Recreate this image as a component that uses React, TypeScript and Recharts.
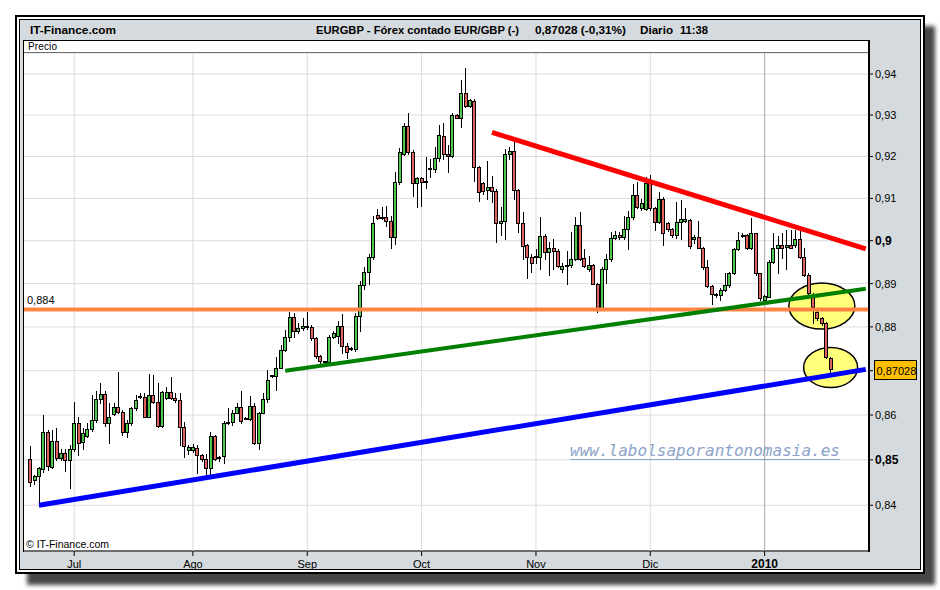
import React from 'react';
import { ComposedChart, Bar, XAxis, YAxis, CartesianGrid, ReferenceLine, ReferenceDot } from 'recharts';

// Daily EURGBP candles: [open, high, low, close]
const candles: [number, number, number, number][] = [
  [0.8501, 0.8531, 0.8443, 0.8450], [0.8455, 0.8466, 0.8446, 0.8464], [0.8464, 0.8485, 0.8399, 0.8481],
  [0.8479, 0.8600, 0.8474, 0.8561], [0.8561, 0.8566, 0.8477, 0.8486], [0.8485, 0.8566, 0.8483, 0.8543],
  [0.8543, 0.8570, 0.8499, 0.8505], [0.8505, 0.8525, 0.8499, 0.8516], [0.8516, 0.8523, 0.8475, 0.8499],
  [0.8499, 0.8533, 0.8437, 0.8525], [0.8525, 0.8630, 0.8520, 0.8581], [0.8581, 0.8596, 0.8510, 0.8538],
  [0.8540, 0.8570, 0.8525, 0.8559], [0.8554, 0.8581, 0.8551, 0.8569], [0.8568, 0.8645, 0.8565, 0.8588],
  [0.8588, 0.8653, 0.8585, 0.8635], [0.8635, 0.8671, 0.8626, 0.8647], [0.8647, 0.8653, 0.8576, 0.8581],
  [0.8583, 0.8626, 0.8537, 0.8595], [0.8602, 0.8626, 0.8600, 0.8617], [0.8617, 0.8698, 0.8604, 0.8607],
  [0.8607, 0.8611, 0.8555, 0.8561], [0.8561, 0.8589, 0.8550, 0.8583], [0.8581, 0.8619, 0.8578, 0.8615],
  [0.8615, 0.8645, 0.8611, 0.8634], [0.8640, 0.8649, 0.8638, 0.8640], [0.8640, 0.8649, 0.8595, 0.8596],
  [0.8596, 0.8692, 0.8595, 0.8644], [0.8644, 0.8690, 0.8628, 0.8630], [0.8630, 0.8671, 0.8574, 0.8576],
  [0.8576, 0.8653, 0.8574, 0.8651], [0.8638, 0.8664, 0.8636, 0.8651], [0.8651, 0.8686, 0.8636, 0.8638],
  [0.8639, 0.8649, 0.8630, 0.8634], [0.8634, 0.8649, 0.8533, 0.8574], [0.8574, 0.8585, 0.8507, 0.8531],
  [0.8522, 0.8533, 0.8514, 0.8528], [0.8522, 0.8535, 0.8518, 0.8529], [0.8527, 0.8533, 0.8471, 0.8510],
  [0.8510, 0.8514, 0.8498, 0.8501], [0.8501, 0.8514, 0.8466, 0.8481], [0.8481, 0.8563, 0.8459, 0.8553],
  [0.8553, 0.8555, 0.8499, 0.8502], [0.8505, 0.8509, 0.8498, 0.8505], [0.8508, 0.8587, 0.8493, 0.8581],
  [0.8581, 0.8615, 0.8580, 0.8585], [0.8585, 0.8611, 0.8577, 0.8605], [0.8605, 0.8626, 0.8604, 0.8619],
  [0.8619, 0.8654, 0.8583, 0.8586], [0.8592, 0.8596, 0.8590, 0.8592], [0.8592, 0.8643, 0.8589, 0.8621],
  [0.8621, 0.8626, 0.8535, 0.8537], [0.8537, 0.8607, 0.8523, 0.8605], [0.8605, 0.8650, 0.8604, 0.8635],
  [0.8635, 0.8701, 0.8630, 0.8678], [0.8688, 0.8691, 0.8685, 0.8688], [0.8688, 0.8732, 0.8656, 0.8707],
  [0.8707, 0.8758, 0.8705, 0.8748], [0.8748, 0.8793, 0.8745, 0.8776], [0.8776, 0.8835, 0.8768, 0.8822],
  [0.8822, 0.8833, 0.8777, 0.8791], [0.8791, 0.8808, 0.8785, 0.8798], [0.8797, 0.8820, 0.8793, 0.8803],
  [0.8803, 0.8835, 0.8796, 0.8799], [0.8799, 0.8804, 0.8770, 0.8774], [0.8774, 0.8777, 0.8728, 0.8733],
  [0.8733, 0.8735, 0.8715, 0.8722], [0.8720, 0.8722, 0.8718, 0.8720], [0.8719, 0.8781, 0.8717, 0.8776],
  [0.8777, 0.8790, 0.8775, 0.8785], [0.8780, 0.8813, 0.8763, 0.8802], [0.8802, 0.8829, 0.8740, 0.8757],
  [0.8757, 0.8763, 0.8728, 0.8742], [0.8749, 0.8754, 0.8746, 0.8749], [0.8749, 0.8833, 0.8745, 0.8826],
  [0.8826, 0.8906, 0.8790, 0.8896], [0.8896, 0.8938, 0.8887, 0.8926], [0.8926, 0.8969, 0.8898, 0.8961],
  [0.8961, 0.9059, 0.8957, 0.9042], [0.9061, 0.9075, 0.9051, 0.9053], [0.9055, 0.9079, 0.9050, 0.9053],
  [0.9055, 0.9083, 0.9035, 0.9046], [0.9046, 0.9059, 0.8984, 0.9008], [0.9008, 0.9162, 0.8992, 0.9138],
  [0.9138, 0.9221, 0.9134, 0.9211], [0.9207, 0.9280, 0.9203, 0.9274], [0.9274, 0.9304, 0.9207, 0.9211],
  [0.9211, 0.9215, 0.9105, 0.9136], [0.9136, 0.9150, 0.9079, 0.9148], [0.9148, 0.9150, 0.9083, 0.9140],
  [0.9140, 0.9198, 0.9124, 0.9140], [0.9169, 0.9194, 0.9150, 0.9169], [0.9169, 0.9223, 0.9162, 0.9196],
  [0.9196, 0.9277, 0.9190, 0.9251], [0.9250, 0.9280, 0.9194, 0.9207], [0.9207, 0.9228, 0.9162, 0.9202],
  [0.9202, 0.9304, 0.9198, 0.9300], [0.9300, 0.9302, 0.9292, 0.9293], [0.9293, 0.9386, 0.9272, 0.9354],
  [0.9354, 0.9414, 0.9320, 0.9322], [0.9322, 0.9340, 0.9320, 0.9336], [0.9334, 0.9340, 0.9142, 0.9174],
  [0.9174, 0.9178, 0.9094, 0.9114], [0.9136, 0.9138, 0.9110, 0.9118], [0.9120, 0.9190, 0.9098, 0.9126],
  [0.9126, 0.9154, 0.9091, 0.9118], [0.9118, 0.9122, 0.8998, 0.9042], [0.9042, 0.9079, 0.9013, 0.9047],
  [0.9047, 0.9218, 0.9004, 0.9206], [0.9206, 0.9222, 0.9195, 0.9214], [0.9214, 0.9246, 0.9098, 0.9120],
  [0.9120, 0.9122, 0.9020, 0.9042], [0.9042, 0.9067, 0.8957, 0.8987], [0.8990, 0.8992, 0.8914, 0.8961],
  [0.8961, 0.8969, 0.8926, 0.8949], [0.8963, 0.8980, 0.8949, 0.8963], [0.8961, 0.9055, 0.8934, 0.9012],
  [0.9012, 0.9016, 0.8957, 0.8973], [0.8973, 0.8996, 0.8920, 0.8982], [0.8982, 0.9004, 0.8934, 0.8977],
  [0.8977, 0.8980, 0.8938, 0.8940], [0.8935, 0.8949, 0.8927, 0.8940], [0.8940, 0.8977, 0.8898, 0.8944],
  [0.8944, 0.9020, 0.8938, 0.8957], [0.8957, 0.9055, 0.8955, 0.9038], [0.9038, 0.9067, 0.8954, 0.8957],
  [0.8959, 0.8980, 0.8938, 0.8940], [0.8934, 0.8965, 0.8930, 0.8944], [0.8944, 0.8945, 0.8898, 0.8900],
  [0.8900, 0.8902, 0.8834, 0.8842], [0.8842, 0.8938, 0.8840, 0.8935], [0.8935, 0.8969, 0.8902, 0.8957],
  [0.8957, 0.9020, 0.8953, 0.9006], [0.9006, 0.9024, 0.9004, 0.9013], [0.9013, 0.9020, 0.9005, 0.9008],
  [0.9008, 0.9059, 0.9004, 0.9028], [0.9028, 0.9071, 0.8980, 0.9057], [0.9057, 0.9134, 0.9051, 0.9109],
  [0.9109, 0.9138, 0.9076, 0.9080], [0.9076, 0.9098, 0.9072, 0.9088], [0.9074, 0.9152, 0.9072, 0.9136],
  [0.9136, 0.9156, 0.9072, 0.9076], [0.9076, 0.9080, 0.9025, 0.9043], [0.9043, 0.9116, 0.9041, 0.9098],
  [0.9098, 0.9104, 0.8990, 0.9019], [0.9041, 0.9045, 0.9024, 0.9027], [0.9027, 0.9029, 0.9009, 0.9013],
  [0.9013, 0.9092, 0.9006, 0.9045], [0.9045, 0.9096, 0.9003, 0.9050], [0.9047, 0.9076, 0.9045, 0.9050],
  [0.9049, 0.9050, 0.8984, 0.8988], [0.9003, 0.9013, 0.8994, 0.9009], [0.9009, 0.9046, 0.8982, 0.8984],
  [0.8984, 0.8986, 0.8935, 0.8939], [0.8939, 0.8955, 0.8893, 0.8894], [0.8894, 0.8897, 0.8853, 0.8875],
  [0.8875, 0.8877, 0.8869, 0.8873], [0.8873, 0.8889, 0.8862, 0.8885], [0.8885, 0.8924, 0.8883, 0.8897],
  [0.8897, 0.8928, 0.8893, 0.8924], [0.8924, 0.8984, 0.8922, 0.8980], [0.8980, 0.9021, 0.8978, 0.9002],
  [0.9011, 0.9017, 0.9009, 0.9013], [0.9013, 0.9016, 0.8980, 0.8982], [0.8982, 0.9053, 0.8980, 0.9017],
  [0.9017, 0.9019, 0.8920, 0.8924], [0.8924, 0.8925, 0.8863, 0.8866], [0.8863, 0.8873, 0.8862, 0.8871],
  [0.8869, 0.8955, 0.8868, 0.8951], [0.8951, 0.9017, 0.8949, 0.8982], [0.8982, 0.9010, 0.8924, 0.8989],
  [0.8989, 0.9017, 0.8960, 0.8984], [0.8986, 0.9025, 0.8935, 0.8991], [0.8991, 0.9025, 0.8982, 0.8984],
  [0.8991, 0.9025, 0.8986, 0.9003], [0.9003, 0.9025, 0.8959, 0.8963], [0.8963, 0.8982, 0.8918, 0.8920],
  [0.8920, 0.8924, 0.8870, 0.8877], [0.8873, 0.8877, 0.8810, 0.8845], [0.8835, 0.8839, 0.8816, 0.8820],
  [0.8821, 0.8823, 0.8804, 0.8808], [0.8808, 0.8812, 0.8728, 0.8732], [0.8728, 0.8732, 0.8697, 0.87028],
];

const TOTAL_SLOTS = 191;
const monthTicks = [10, 37, 63, 89, 115, 141, 167];
const monthLabels = ['Jul', 'Ago', 'Sep', 'Oct', 'Nov', 'Dic', '2010'];
const priceTicks = [0.84, 0.85, 0.86, 0.87, 0.88, 0.89, 0.9, 0.91, 0.92, 0.93, 0.94];
const priceTickLabels = ['0,84', '0,85', '0,86', '0,87', '0,88', '0,89', '0,9', '0,91', '0,92', '0,93', '0,94'];
const boldPriceLabels = ['0,85', '0,9'];
const supportLevel = 0.884;
const supportLabel = '0,884';
const lastPrice = 0.87028;
const lastPriceLabel = '0,87028';
const redTrend = [{ x: 105, y: 0.9258 }, { x: 190, y: 0.8981 }];
const greenTrend = [{ x: 58, y: 0.87 }, { x: 190, y: 0.8888 }];
const blueTrend = [{ x: 2, y: 0.84 }, { x: 190, y: 0.8703 }];
const highlights = [
  { x: 180, y: 0.8848, rx: 33, ry: 23 },
  { x: 182, y: 0.8707, rx: 27, ry: 20 },
];

const data = Array.from({ length: TOTAL_SLOTS }, (_, i) => {
  const c = candles[i];
  if (!c) return { i, wick: null, body: null, up: true };
  const [o, h, l, cl] = c;
  return { i, wick: [l, h], body: [Math.min(o, cl), Math.max(o, cl)], up: cl >= o };
});

const FONT = '"Liberation Sans", Arial, sans-serif';

const WickShape = (props: any) => {
  const { x, y, width, height, payload } = props;
  if (!payload || !payload.wick || !isFinite(y) || !isFinite(height)) return null;
  const px = Math.floor(x + width / 2);
  const top = Math.round(Math.min(y, y + height));
  const bot = Math.round(Math.max(y, y + height));
  return <line x1={px + 0.5} x2={px + 0.5} y1={top} y2={bot + 1} stroke="#000" strokeWidth={1} shapeRendering="crispEdges" />;
};

const BodyShape = (props: any) => {
  const { x, y, width, height, payload } = props;
  if (!payload || !payload.body || !isFinite(y) || !isFinite(height)) return null;
  const px = Math.floor(x + width / 2);
  const top = Math.round(Math.min(y, y + height));
  const bot = Math.round(Math.max(y, y + height));
  const h = Math.max(bot - top, 1);
  return (
    <rect
      x={px - 0.5}
      y={top + 0.5}
      width={3}
      height={h}
      fill={payload.up ? '#4cc84c' : '#e0625e'}
      stroke="#000"
      strokeWidth={1}
      shapeRendering="crispEdges"
    />
  );
};

const YTick = (props: any) => {
  const { x, y, payload } = props;
  const idx = priceTicks.indexOf(payload.value);
  const label = priceTickLabels[idx] ?? '';
  // the last-price box sits on top of the nearest tick label
  if (Math.abs(payload.value - lastPrice) < 0.003) return null;
  const bold = boldPriceLabels.includes(label);
  return (
    <text x={x} y={y} dy={4} fontSize={bold ? 12 : 11} fontWeight={bold ? 'bold' : 'normal'} fontFamily={FONT} fill="#000" textAnchor="start">
      {label}
    </text>
  );
};

const XTick = (props: any) => {
  const { x, y, payload } = props;
  const idx = monthTicks.indexOf(payload.value);
  const label = monthLabels[idx] ?? '';
  const bold = label === '2010';
  return (
    <text x={x} y={y} dy={10} fontSize={bold ? 12 : 11} fontWeight={bold ? 'bold' : 'normal'} fontFamily={FONT} fill="#000" textAnchor="middle">
      {label}
    </text>
  );
};

const SupportLabel = (props: any) => {
  const vb = props.viewBox || {};
  return (
    <text x={(vb.x ?? 0) + 3} y={(vb.y ?? 0) - 5} fontSize={11} fontFamily={FONT} fill="#000">
      {supportLabel}
    </text>
  );
};

const LastPriceLabel = (props: any) => {
  const vb = props.viewBox || {};
  const bx = Math.round((vb.x ?? 0) + (vb.width ?? 0) + 6) + 0.5;
  const by = Math.round((vb.y ?? 0) - 9.5) + 0.5;
  return (
    <g>
      <rect x={bx} y={by} width={42} height={19} fill="#ffc000" stroke="#000" strokeWidth={1} />
      <text x={bx + 2} y={by + 14} fontSize={11} fontFamily={FONT} fill="#000">
        {lastPriceLabel}
      </text>
    </g>
  );
};

export default function App() {
  return (
    <div style={{ position: 'absolute', left: 0, top: 0, width: 940, height: 590, background: '#fff', overflow: 'hidden' }}>
      {/* drop shadow */}
      <div style={{ position: 'absolute', left: 27, top: 26, width: 908, height: 559, background: '#474747', filter: 'blur(2px)' }} />
      {/* outer frame */}
      <div style={{ position: 'absolute', left: 15, top: 15, width: 910, height: 559, boxSizing: 'border-box', border: '2px solid #000', background: '#fff' }} />
      <div style={{ position: 'absolute', left: 19, top: 19, width: 902, height: 551, boxSizing: 'border-box', border: '1px solid #000', background: '#d4dadd' }} />
      {/* plot panel */}
      <div
        style={{
          position: 'absolute', left: 23, top: 40, width: 847, height: 512, boxSizing: 'border-box',
          borderTop: '1px solid #000', borderLeft: '1px solid #000', borderRight: '2px solid #000', borderBottom: '2px solid #000',
          background: '#fff',
        }}
      />
      <div style={{ position: 'absolute', left: 24, top: 52, width: 844, height: 1, background: '#000' }} />

      <div style={{ position: 'absolute', left: 0, top: 0 }}>
        <ComposedChart width={940} height={590} data={data} margin={{ top: 53, right: 0, bottom: 0, left: 24 }} barGap={0} barCategoryGap={0}>
          <CartesianGrid xAxisId="main" yAxisId="p" horizontal vertical={false} stroke="#dcdcdc" />
          <XAxis
            xAxisId="main"
            dataKey="i"
            type="category"
            ticks={monthTicks}
            interval={0}
            height={39}
            padding={{ left: 4, right: 0 }}
            tick={<XTick />}
            tickSize={5}
            tickLine={{ stroke: '#000' }}
            axisLine={false}
          />
          <XAxis xAxisId="wick" dataKey="i" type="category" hide padding={{ left: 4, right: 0 }} />
          <YAxis
            yAxisId="p"
            orientation="right"
            scale="log"
            type="number"
            domain={[0.83003, 0.94517]}
            allowDataOverflow
            ticks={priceTicks}
            interval={0}
            width={72}
            tick={<YTick />}
            tickSize={5}
            tickLine={{ stroke: '#000' }}
            axisLine={false}
          />
          {monthTicks.map((t, k) => (
            <ReferenceLine
              key={'m' + t}
              xAxisId="main"
              yAxisId="p"
              x={t}
              stroke={monthLabels[k] === '2010' ? '#a8a8a8' : '#dadada'}
              strokeWidth={1}
              zIndex={-90}
            />
          ))}
          {highlights.map((h, k) => (
            <ReferenceDot
              key={'h' + k}
              xAxisId="main"
              yAxisId="p"
              x={h.x}
              y={h.y}
              r={2}
              ifOverflow="visible"
              zIndex={50}
              shape={(p: any) => (
                <ellipse cx={p.cx} cy={p.cy} rx={h.rx} ry={h.ry} fill="#ffff7a" stroke="#000" strokeWidth={1.5} />
              )}
            />
          ))}
          <Bar xAxisId="wick" yAxisId="p" dataKey="wick" barSize={1} shape={WickShape} isAnimationActive={false} />
          <Bar xAxisId="main" yAxisId="p" dataKey="body" barSize={3.4} minPointSize={1} shape={BodyShape} isAnimationActive={false} />
          <ReferenceLine
            xAxisId="main"
            yAxisId="p"
            y={supportLevel}
            stroke="#ff8442"
            strokeWidth={4}
            zIndex={450}
            label={<SupportLabel />}
          />
          <ReferenceLine xAxisId="main" yAxisId="p" segment={redTrend} stroke="#ff0000" strokeWidth={5} zIndex={460} />
          <ReferenceLine xAxisId="main" yAxisId="p" segment={greenTrend} stroke="#008000" strokeWidth={4} zIndex={460} />
          <ReferenceLine xAxisId="main" yAxisId="p" segment={blueTrend} stroke="#0000ff" strokeWidth={5} zIndex={460} />
          <ReferenceLine
            xAxisId="main"
            yAxisId="p"
            y={lastPrice}
            stroke="none"
            ifOverflow="visible"
            zIndex={470}
            label={<LastPriceLabel />}
          />
        </ComposedChart>
      </div>

      {/* texts overlay */}
      <svg width={940} height={590} style={{ position: 'absolute', left: 0, top: 0, pointerEvents: 'none' }}>
        <g fontFamily={FONT} fontWeight="bold" fontSize={11.5} fill="#000">
          <text x={30} y={33.5} textLength={86} lengthAdjust="spacingAndGlyphs">IT-Finance.com</text>
          <text x={316} y={33.5} textLength={203} lengthAdjust="spacingAndGlyphs">EURGBP - Fórex contado EUR/GBP (-)</text>
          <text x={535} y={33.5} textLength={91} lengthAdjust="spacingAndGlyphs">0,87028 (-0,31%)</text>
          <text x={640} y={33.5} textLength={33} lengthAdjust="spacingAndGlyphs">Diario</text>
          <text x={680} y={33.5} textLength={28} lengthAdjust="spacingAndGlyphs">11:38</text>
        </g>
        <text x={28} y={49.5} fontFamily={FONT} fontSize={10} fill="#000" textLength={29} lengthAdjust="spacing">Precio</text>
        <text x={26} y={548} fontFamily={FONT} fontSize={11} fill="#000" textLength={83} lengthAdjust="spacingAndGlyphs">© IT-Finance.com</text>
        <text
          x={570}
          y={456}
          fontFamily='"DejaVu Sans Mono", "Liberation Mono", monospace'
          fontStyle="italic"
          fontSize={16}
          fill="#8ba3c8"
          textLength={270}
          lengthAdjust="spacingAndGlyphs"
        >
          www.labolsaporantonomasia.es
        </text>
        <line x1={570} x2={840} y1={459.5} y2={459.5} stroke="#8ba3c8" strokeWidth={1} />
      </svg>
    </div>
  );
}
